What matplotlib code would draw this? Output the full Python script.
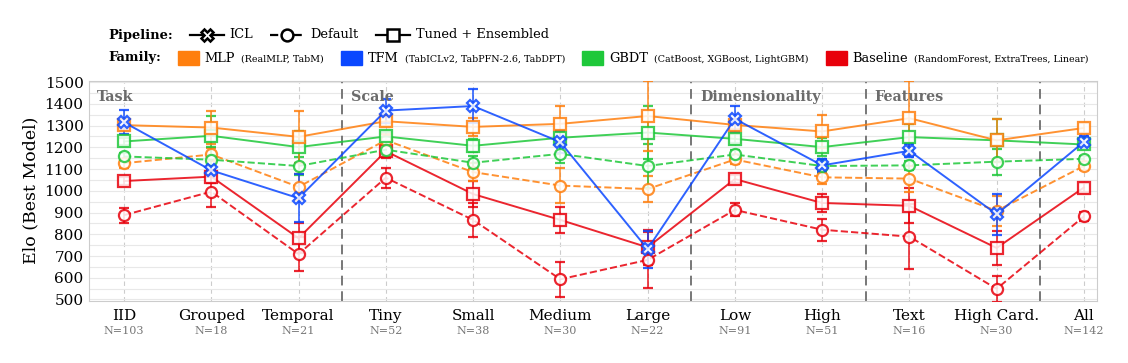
import matplotlib
matplotlib.use("Agg")
import matplotlib.pyplot as plt
from matplotlib.lines import Line2D
from matplotlib.patches import Rectangle
import numpy as np

plt.rcParams['font.family'] = ['DejaVu Serif']

categories = ["IID", "Grouped", "Temporal", "Tiny", "Small", "Medium", "Large",
              "Low", "High", "Text", "High Card.", "All"]
counts = [103, 18, 21, 52, 38, 30, 22, 91, 51, 16, 30, 142]
sections = ["Task", "Scale", "Dimensionality", "Features"]
section_starts = [0, 3, 7, 9]
separators = [2.5, 6.5, 8.5, 10.5]

tfm_icl = [1315, 1094, 966, 1369, 1390, 1224, 732, 1331, 1117, 1184, 892, 1225]
tfm_icl_err = [55, 20, 110, 55, 80, 50, 85, 60, 30, 30, 95, 25]

mlp_tuned = [1302, 1291, 1248, 1320, 1294, 1308, 1344, 1303, 1273, 1334, 1232, 1289]
mlp_tuned_err = [20, 75, 118, 20, 40, 80, 160, 20, 75, 170, 100, 25]
mlp_default = [1127, 1167, 1018, 1233, 1086, 1024, 1008, 1144, 1062, 1056, 908, 1114]
mlp_default_err = [20, 30, 60, 30, 40, 80, 60, 20, 30, 60, 70, 20]

gbdt_tuned = [1227, 1253, 1201, 1250, 1207, 1244, 1268, 1239, 1201, 1247, 1232, 1213]
gbdt_tuned_err = [15, 90, 75, 20, 30, 30, 120, 20, 40, 60, 100, 20]
gbdt_default = [1158, 1143, 1114, 1189, 1129, 1170, 1114, 1167, 1114, 1117, 1134, 1147]
gbdt_default_err = [15, 60, 40, 20, 30, 40, 100, 20, 30, 20, 60, 15]

base_tuned = [1045, 1065, 782, 1182, 985, 866, 740, 1054, 944, 931, 737, 1015]
base_tuned_err = [20, 30, 70, 30, 60, 60, 80, 20, 40, 80, 80, 20]
base_default = [888, 996, 709, 1060, 866, 593, 682, 912, 821, 789, 549, 882]
base_default_err = [35, 70, 80, 45, 80, 80, 130, 30, 50, 150, 60, 20]

C_MLP = "#ff7f0e"
C_TFM = "#0a47ff"
C_GBDT = "#1ec83a"
C_BASE = "#e8000b"

fig = plt.figure(figsize=(11.28, 3.63), dpi=100)
ax = fig.add_axes([0.079, 0.172, 0.8935, 0.606])
x = np.arange(len(categories))

ax.set_axisbelow(True)
ax.set_yticks(np.arange(500, 1501, 50), minor=True)
ax.grid(axis='y', which='both', color='#e8e8e8', lw=0.8)
for xi in x:
    ax.axvline(xi, color='#cccccc', lw=0.8, ls=(0, (4, 3)), zorder=0)
for s in separators:
    ax.axvline(s, color='#777777', lw=1.4, ls=(0, (5, 3)), zorder=1)


def draw(vals, errs, color, marker, ls):
    ax.errorbar(x, vals, yerr=errs, color=color, ls=ls, lw=1.4, alpha=0.85,
                marker=marker, ms=8 if marker != 'X' else 9,
                mfc='white', mec=color, mew=1.6,
                ecolor=color, elinewidth=1.2, capsize=3.3, capthick=1.2, zorder=3)


draw(base_default, base_default_err, C_BASE, 'o', '--')
draw(base_tuned, base_tuned_err, C_BASE, 's', '-')
draw(mlp_default, mlp_default_err, C_MLP, 'o', '--')
draw(gbdt_default, gbdt_default_err, C_GBDT, 'o', '--')
draw(gbdt_tuned, gbdt_tuned_err, C_GBDT, 's', '-')
draw(mlp_tuned, mlp_tuned_err, C_MLP, 's', '-')
draw(tfm_icl, tfm_icl_err, C_TFM, 'X', '-')

ax.set_xlim(-0.4, 11.15)
ax.set_ylim(495, 1507)
ax.set_yticks(np.arange(500, 1501, 100))
ax.tick_params(axis='y', which='both', labelsize=11, length=0, pad=4)
ax.set_xticks(x)
ax.set_xticklabels(categories, fontsize=11)
ax.tick_params(axis='x', length=0, pad=6)
for xi, n in zip(x, counts):
    ax.text(xi, -0.14, "N=%d" % n, transform=ax.get_xaxis_transform(),
            ha='center', va='center', fontsize=8, color='#777777')
ax.set_ylabel("Elo (Best Model)", fontsize=12.5)
for sp in ax.spines.values():
    sp.set_color('#cccccc')
for name, st in zip(sections, section_starts):
    lx = -0.31 if st == 0 else st - 0.4
    ax.text(lx, 0.955, name, transform=ax.get_xaxis_transform(),
            ha='left', va='top', fontsize=10.3, fontweight='bold', color='#6b6b6b')

# legend rows drawn by hand
fig.canvas.draw()
rend = fig.canvas.get_renderer()
W, H = fig.get_size_inches() * fig.dpi


def put_text(px, py, s, **kw):
    t = fig.text(px / W, 1 - py / H, s, va='center', ha='left', **kw)
    bb = t.get_window_extent(renderer=rend)
    return px + bb.width


def put_line(px, py, marker, ls):
    ln = Line2D([px / W, (px + 34) / W], [1 - py / H] * 2, transform=fig.transFigure,
                color='black', lw=1.6, ls=ls)
    fig.add_artist(ln)
    mk = Line2D([(px + 17) / W], [1 - py / H], transform=fig.transFigure,
                marker=marker, ms=9 if marker == 'X' else 8.5, mfc='white', mec='black',
                mew=1.8, ls='none')
    fig.add_artist(mk)
    return px + 40


row1, row2 = 35, 58
px = 108
px = put_text(px, row1, "Pipeline:", fontsize=9.4, fontweight='bold') + 17
for lab, mk, ls in [("ICL", 'X', '-'), ("Default", 'o', '--'), ("Tuned + Ensembled", 's', '-')]:
    px = put_line(px, row1, mk, ls)
    px = put_text(px, row1, lab, fontsize=9.4) + 17

px = 108
px = put_text(px, row2, "Family:", fontsize=9.4, fontweight='bold') + 17
for lab, sub, col in [("MLP", "(RealMLP, TabM)", C_MLP),
                      ("TFM", "(TabICLv2, TabPFN-2.6, TabDPT)", C_TFM),
                      ("GBDT", "(CatBoost, XGBoost, LightGBM)", C_GBDT),
                      ("Baseline", "(RandomForest, ExtraTrees, Linear)", C_BASE)]:
    fig.add_artist(Rectangle((px / W, 1 - (row2 + 7) / H), 21 / W, 14 / H,
                             transform=fig.transFigure, color=col))
    px += 27
    px = put_text(px, row2, lab, fontsize=9.4) + 6
    px = put_text(px, row2 + 1, sub, fontsize=6.8) + 17

fig.savefig("out.png", dpi=100)
